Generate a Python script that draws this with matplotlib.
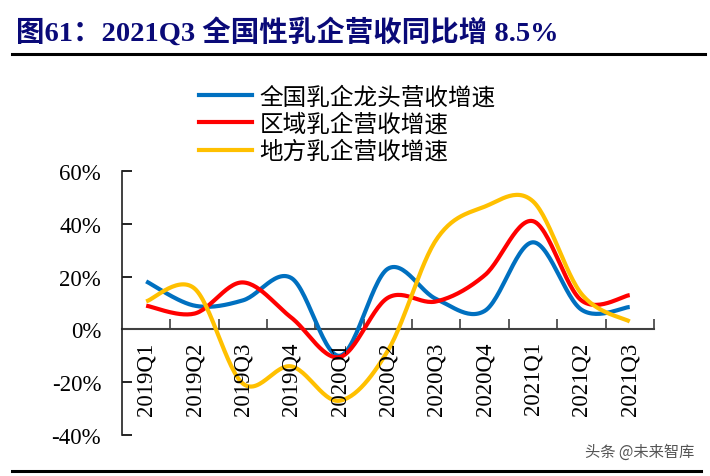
import numpy as np
import matplotlib
matplotlib.use('Agg')
from matplotlib import pyplot as plt
from matplotlib.lines import Line2D

plt.rcParams['font.family'] = ['Liberation Serif', 'Noto Sans CJK SC', 'DejaVu Sans']

quarters = ['2019Q1', '2019Q2', '2019Q3', '2019Q4', '2020Q1', '2020Q2',
            '2020Q3', '2020Q4', '2021Q1', '2021Q2', '2021Q3']
national = [18.2, 9.0, 11.0, 19.5, -10.0, 23.0, 11.5, 7.0, 33.0, 7.5, 8.5]
regional = [9.0, 6.0, 17.8, 4.5, -10.5, 12.0, 10.6, 20.5, 41.0, 11.0, 13.0]
local = [10.6, 15.5, -20.5, -14.0, -27.0, -8.0, 34.0, 46.5, 48.5, 13.5, 3.0]
labels = ['全国乳企龙头营收增速', '区域乳企营收增速', '地方乳企营收增速']
colors = ['#0070C0', '#FF0000', '#FFC000']
yticks = [-40, -20, 0, 20, 40, 60]


def smooth(y, n=30):
  # bezier smoothing like the office "smoothed line" option
  y = np.asarray(y, dtype=float)
  x = np.arange(len(y), dtype=float)
  pts = np.column_stack([x, y])
  ext = np.vstack([pts[0], pts, pts[-1]])
  out = []
  t = np.linspace(0, 1, n)[:, None]
  for i in range(len(pts) - 1):
    p0, p1, p2, p3 = ext[i], ext[i + 1], ext[i + 2], ext[i + 3]
    c1 = p1 + (p2 - p0) / 6
    c2 = p2 - (p3 - p1) / 6
    seg = ((1 - t) ** 3) * p1 + 3 * ((1 - t) ** 2) * t * c1 + 3 * (1 - t) * t ** 2 * c2 + t ** 3 * p2
    out.append(seg if i == 0 else seg[1:])
  out = np.vstack(out)
  return out[:, 0], out[:, 1]


fig = plt.figure(figsize=(7.1, 4.77), dpi=100)
ax = fig.add_axes([0.1718, 0.0859, 0.7492, 0.5535])

for series, c in zip([national, regional, local], colors):
  sx, sy = smooth(series)
  ax.plot(sx, sy, color=c, lw=3.0, solid_capstyle='butt', zorder=3)

ax.set_xlim(-0.5, len(quarters) - 0.5)
ax.set_ylim(-40, 60)
ax.set_yticks(yticks)
ax.set_yticklabels([f'{v}%' for v in yticks], fontsize=16.5)

ax.spines['top'].set_visible(False)
ax.spines['right'].set_visible(False)
ax.spines['bottom'].set_position(('data', 0))
ax.spines['bottom'].set_color('#404040')
ax.spines['bottom'].set_linewidth(1.5)
ax.spines['bottom'].set_zorder(2)
ax.spines['left'].set_color('#202020')
ax.spines['left'].set_linewidth(1.2)

ax.set_xticks(np.arange(0.5, len(quarters), 1.0))
ax.set_xticklabels([])
ax.tick_params(axis='x', direction='in', length=7, width=1.2, color='#404040')
ax.tick_params(axis='y', direction='in', length=7, width=1.2, pad=15)
for i, q in enumerate(quarters):
  ax.text(i, -4.5, q, rotation=90, ha='center', va='top', fontsize=16.5)

handles = [Line2D([0], [0], color=c, lw=3.0) for c in colors]
fig.legend(handles, labels, loc='upper left', bbox_to_anchor=(0.264, 0.843),
           frameon=False, fontsize=17, handlelength=2.25, handletextpad=0.3,
           labelspacing=0.2, borderpad=0)

fig.text(0.022, 0.932, '图61：2021Q3 全国性乳企营收同比增 8.5%', fontsize=20.5,
         fontweight='bold', color='#0A0A78', va='center', ha='left')
fig.add_artist(Line2D([0.017, 0.993], [0.885, 0.885], color='black', lw=2.2))
fig.add_artist(Line2D([0.017, 0.987], [0.011, 0.011], color='black', lw=2.2))
fig.text(0.978, 0.052, '头条 @未来智库', fontsize=11, color='#555555',
         family=['Noto Sans CJK SC'], ha='right', va='center')

fig.savefig('out.png', dpi=100)
